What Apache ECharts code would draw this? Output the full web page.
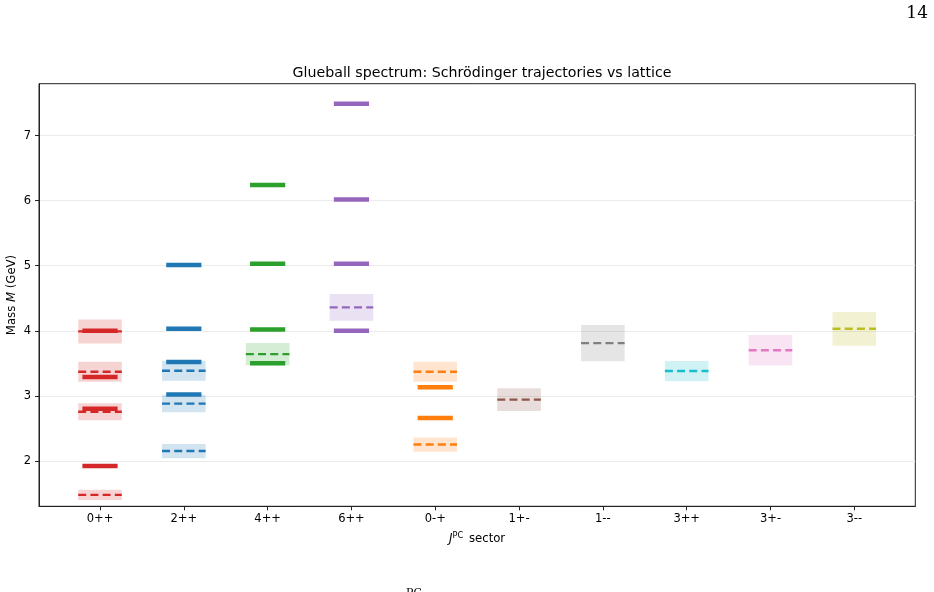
<!DOCTYPE html>
<html>
<head>
<meta charset="utf-8">
<script src="https://cdn.jsdelivr.net/npm/echarts@6/dist/echarts.min.js"></script>
<style>
  html, body { margin: 0; padding: 0; background: #fff; }
  #chart { width: 934px; height: 592px; }
</style>
</head>
<body>
<div id="chart"></div>
<script>
(function () {
    'use strict';

    // J^PC sectors on the x axis
    var sectors = ['0++', '2++', '4++', '6++', '0-+', '1+-', '1--', '3++', '3+-', '3--'];
    // Schrödinger trajectory masses (GeV), solid bars
    var trajMass = [
        [1.92, 2.80, 3.29, 4.00],
        [3.02, 3.52, 4.03, 5.01],
        [3.50, 4.02, 5.03, 6.24],
        [4.00, 5.03, 6.02, 7.49],
        [2.66, 3.13],
        [], [], [], [], []
    ];
    // lattice masses (GeV) with errors, dashed lines + bands
    var latticeMass = [
        [1.475, 2.755, 3.37, 3.99],
        [2.15, 2.88, 3.385],
        [3.64],
        [4.36],
        [2.25, 3.37],
        [2.94],
        [3.81],
        [3.38],
        [3.70],
        [4.03]
    ];
    var latticeErr = [
        [0.08, 0.13, 0.155, 0.185],
        [0.11, 0.135, 0.155],
        [0.17],
        [0.205],
        [0.11, 0.155],
        [0.175],
        [0.28],
        [0.155],
        [0.235],
        [0.26]
    ];
    var yTicks = [2, 3, 4, 5, 6, 7];

    var palette = ['#d62728', '#1f77b4', '#2ca02c', '#9467bd', '#ff7f0e',
                   '#8c564b', '#7f7f7f', '#17becf', '#e377c2', '#bcbd22'];

    var bandData = [];
    var solidData = [];
    for (var i = 0; i < sectors.length; i++) {
        for (var j = 0; j < latticeMass[i].length; j++) {
            bandData.push([i, latticeMass[i][j], latticeErr[i][j]]);
        }
        for (var k = 0; k < trajMass[i].length; k++) {
            solidData.push([i, trajMass[i][k]]);
        }
    }

    function renderBand(params, api) {
        var x = api.value(0);
        var m = api.value(1);
        var e = api.value(2);
        var col = palette[x];
        var p1 = api.coord([x - 0.26, m + e]);
        var p2 = api.coord([x + 0.26, m - e]);
        var c1 = api.coord([x - 0.26, m]);
        var c2 = api.coord([x + 0.26, m]);
        return {
            type: 'group',
            children: [{
                type: 'rect',
                shape: {x: p1[0], y: p1[1], width: p2[0] - p1[0], height: p2[1] - p1[1]},
                style: {fill: col, opacity: 0.2}
            }, {
                type: 'line',
                shape: {x1: c1[0], y1: c1[1], x2: c2[0], y2: c2[1]},
                style: {stroke: col, lineWidth: 2.4, lineDash: [8, 4.2]}
            }]
        };
    }

    function renderSolid(params, api) {
        var x = api.value(0);
        var m = api.value(1);
        var a = api.coord([x - 0.21, m]);
        var b = api.coord([x + 0.21, m]);
        return {
            type: 'line',
            shape: {x1: a[0], y1: a[1], x2: b[0], y2: b[1]},
            style: {stroke: palette[x], lineWidth: 4.5}
        };
    }

    var sectorIdx = sectors.map(function (s, idx) { return idx; });

    var option = {
        animation: false,
        backgroundColor: '#fff',
        textStyle: {fontFamily: 'DejaVu Sans'},
        title: {
            text: 'Glueball spectrum: Schrödinger trajectories vs lattice',
            left: 477,
            textAlign: 'center',
            top: 61,
            textStyle: {fontSize: 14.2, fontWeight: 'normal', color: '#000', fontFamily: 'DejaVu Sans'}
        },
        grid: {
            left: 39, right: 18.7, top: 83.7, bottom: 85.7,
            outerBoundsMode: 'none',
            containLabel: false,
            show: true, borderColor: '#222', borderWidth: 1, backgroundColor: 'transparent'
        },
        xAxis: {
            type: 'value',
            min: -0.728,
            max: 9.728,
            name: '{i|J}{s|PC} sector',
            nameLocation: 'middle',
            nameGap: 26,
            nameTextStyle: {
                color: '#000', fontSize: 11.7,
                rich: {
                    i: {fontStyle: 'italic', fontSize: 11.7, color: '#000'},
                    s: {fontSize: 8.2, color: '#000', verticalAlign: 'top', padding: [0, 2, 6, 0]}
                }
            },
            axisLine: {show: true, onZero: false, lineStyle: {color: '#222', width: 1}},
            axisTick: {show: true, length: 4, customValues: sectorIdx, lineStyle: {color: '#222'}},
            axisLabel: {
                customValues: sectorIdx,
                color: '#000', fontSize: 11.5, margin: 7,
                formatter: function (v) { return sectors[Math.round(v)]; }
            },
            splitLine: {show: false}
        },
        yAxis: {
            type: 'value',
            min: 1.30,
            max: 7.80,
            name: 'Mass {i|M} (GeV)',
            nameLocation: 'middle',
            nameGap: 21,
            nameMoveOverlap: false,
            nameTextStyle: {
                color: '#000', fontSize: 11.7,
                rich: {i: {fontStyle: 'italic', fontSize: 11.7, color: '#000'}}
            },
            axisLine: {show: true, onZero: false, lineStyle: {color: '#222', width: 1}},
            axisTick: {show: true, length: 4, customValues: yTicks, lineStyle: {color: '#222'}},
            axisLabel: {customValues: yTicks, color: '#000', fontSize: 11.5, margin: 8},
            splitLine: {show: true, lineStyle: {color: '#ebebeb', width: 1}}
        },
        graphic: [{
            type: 'text',
            right: 6, top: 5,
            style: {text: '14', fontFamily: 'DejaVu Serif', fontSize: 17, fill: '#000'}
        }, {
            type: 'text',
            left: 406, top: 588,
            style: {text: 'PC', fontFamily: 'DejaVu Serif', fontSize: 11, fill: '#000'}
        }],
        series: [{
            type: 'custom',
            name: 'lattice',
            renderItem: renderBand,
            data: bandData,
            z: 2
        }, {
            type: 'custom',
            name: 'trajectory',
            renderItem: renderSolid,
            data: solidData,
            z: 3
        }]
    };

    var chart = echarts.init(document.getElementById('chart'));
    chart.setOption(option);
})();
</script>
</body>
</html>
